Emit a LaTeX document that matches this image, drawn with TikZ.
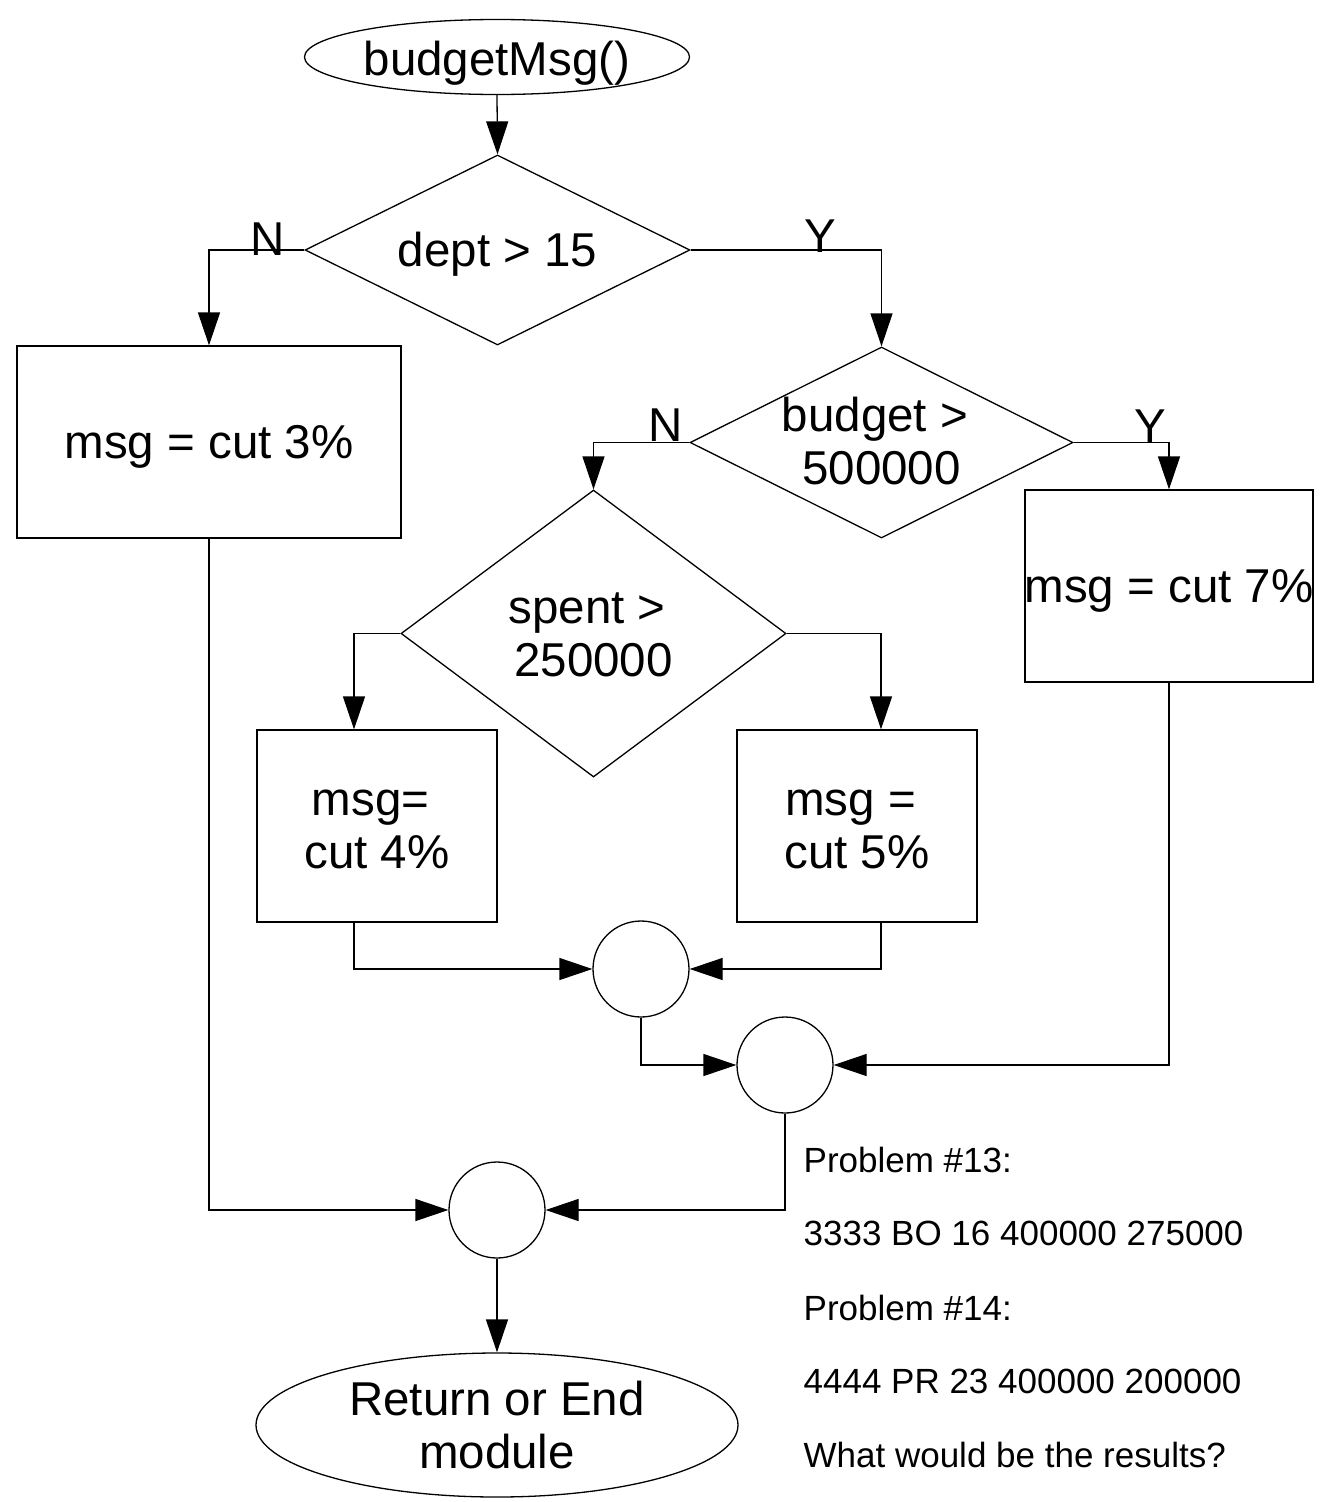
\documentclass[tikz,border=0pt]{standalone}
\usepackage{fontspec}
\setmainfont{Liberation Sans}
\usetikzlibrary{arrows.meta,shapes.geometric}
\begin{document}
\begin{tikzpicture}[x=1pt,y=-1pt,
  line width=1.3pt,
  shp/.style={draw,line width=1.3pt,inner sep=0pt},
  rbox/.style={shp,rectangle},
  dia/.style={shp,diamond},
  oval/.style={shp,ellipse},
  junc/.style={shp,circle,minimum size=96pt},
  arr/.style={-{Triangle[length=33pt,width=22pt]}},
  big/.style={font=\fontsize{47.5}{53}\selectfont,inner sep=0pt,align=center,anchor=base},
  note/.style={font=\fontsize{35}{40}\selectfont,inner sep=0pt,anchor=base west}
]
\useasboundingbox (0,0) rectangle (1325,1502);

% shapes
\node[oval,minimum width=385pt,minimum height=75pt] (s) at (497,57) {};
\node[dia,minimum width=385pt,minimum height=190pt] (d1) at (497.5,250) {};
\node[rbox,minimum width=384pt,minimum height=192pt] (b3) at (209,442) {};
\node[dia,minimum width=383pt,minimum height=191pt] (d2) at (881.5,442.5) {};
\node[rbox,minimum width=288pt,minimum height=192pt] (b7) at (1169,586) {};
\node[dia,minimum width=385pt,minimum height=287pt] (d3) at (593.5,633.5) {};
\node[rbox,minimum width=240pt,minimum height=192pt] (b4) at (377,826) {};
\node[rbox,minimum width=240pt,minimum height=192pt] (b5) at (857,826) {};
\node[junc] (c1) at (641,969) {};
\node[junc] (c2) at (785,1065) {};
\node[junc] (c3) at (497,1210) {};
\node[oval,minimum width=482pt,minimum height=144pt] (e) at (497,1425) {};

% texts (multi-line: base anchor is the last line's baseline)
\node[big] (st) at (497,75) {budgetMsg()};
\node[big] (d1t) at (497.5,266) {dept > 15};
\node[big] (b3t) at (209,458) {msg = cut 3\%};
\node[big] (d2t) at (881.5,484.5) {budget >\kern13pt\\500000};
\node[big] (b7t) at (1169,602) {msg = cut 7\%};
\node[big] (d3t) at (593.5,676.5) {spent >\kern13pt\\250000};
\node[big] (b4t) at (377,868.5) {msg=\kern13pt\\cut 4\%};
\node[big] (b5t) at (857,868.5) {msg =\kern13pt\\cut 5\%};
\node[big] (et) at (497,1468) {Return or End\\module};

% branch labels
\node[big] (n1) at (268,255) {N};
\node[big] (y1) at (820,252) {Y};
\node[big] (n2) at (666,441) {N};
\node[big] (y2) at (1150,442) {Y};

% connectors
\draw[arr] (s.south) -- (d1.north);
\draw[arr] (d1.west) -| (b3.north);
\draw[arr] (d1.east) -| (d2.north);
\draw[arr] (d2.west) -| (d3.north);
\draw[arr] (d2.east) -| (b7.north);
\draw[arr] (d3.west) -| ([xshift=-23pt]b4.north);
\draw[arr] (d3.east) -| ([xshift=24pt]b5.north);
\draw[arr] ([xshift=-23pt]b4.south) |- (c1.west);
\draw[arr] ([xshift=24pt]b5.south) |- (c1.east);
\draw[arr] (c1.south) |- (c2.west);
\draw[arr] (b7.south) |- (c2.east);
\draw[arr] (b3.south) |- (c3.west);
\draw[arr] (c2.south) |- (c3.east);
\draw[arr] (c3.south) -- (e.north);

% problem notes
\node[note] (p1) at (803,1172) {Problem \#13:};
\node[note] (p2) at (803,1245) {3333 BO 16 400000 275000};
\node[note] (p3) at (803,1320) {Problem \#14:};
\node[note] (p4) at (803,1393) {4444 PR 23 400000 200000};
\node[note] (p5) at (803,1467) {What would be the results?};
\end{tikzpicture}
\end{document}
